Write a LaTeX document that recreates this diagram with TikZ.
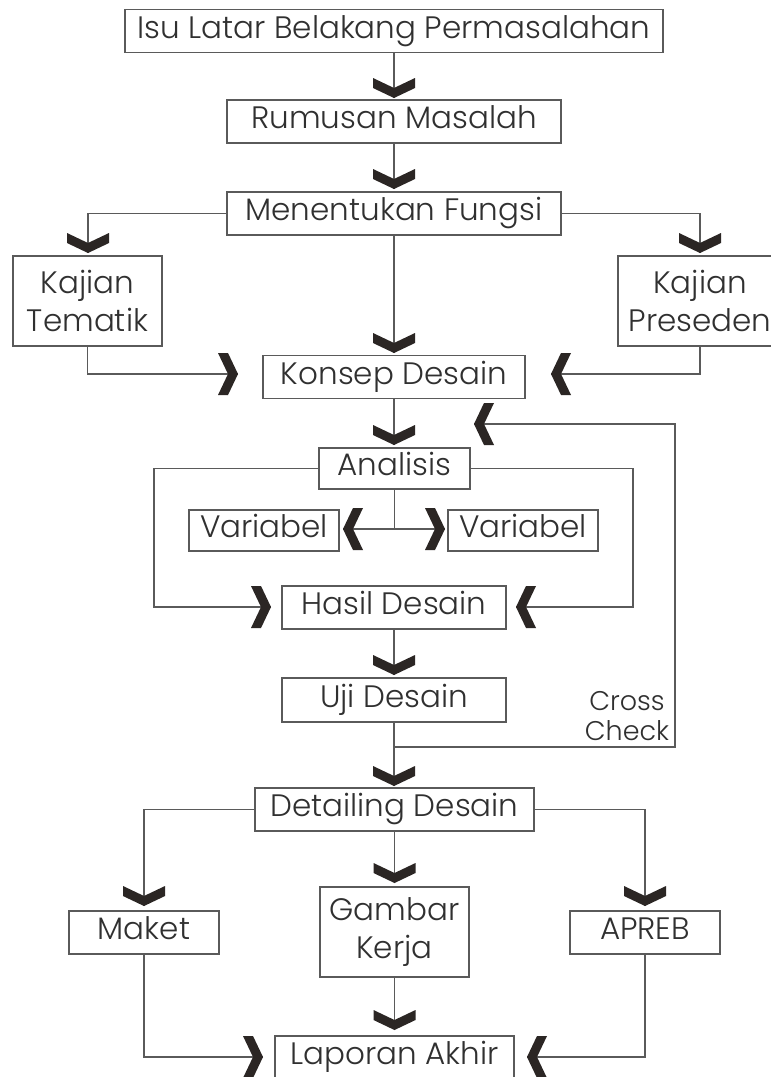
\documentclass[tikz,border=0pt]{standalone}
\usepackage{fontspec}
\setmainfont{Poppins}[UprightFont={* Light}]
\definecolor{linegray}{HTML}{5A5A5A}
\definecolor{textgray}{HTML}{303030}
\definecolor{chevcol}{HTML}{2B2624}
\newcommand{\mainf}{\fontsize{31}{37.5}\selectfont}
\newcommand{\smallf}{\fontsize{27}{30}\selectfont}
\tikzset{
  box/.style={draw=linegray, line width=1.2pt, fill=white, inner sep=0pt,
    text=textgray, font=\mainf, minimum height=43pt, text height=20pt, text depth=6pt},
  tallbox/.style={draw=linegray, line width=1.2pt, fill=white, inner sep=0pt,
    text=textgray, font=\mainf, minimum height=90pt, align=center},
  conn/.style={draw=linegray, line width=1.2pt},
  chevD/.pic={\fill[chevcol] (0,0)--(21,-10)--(21,-20)--(0,-10)--(-21,-20)--(-21,-10)--cycle;},
  chevR/.pic={\fill[chevcol] (0,0)--(-10,-21)--(-20,-21)--(-10,0)--(-20,21)--(-10,21)--cycle;},
  chevL/.pic={\fill[chevcol] (0,0)--(10,-21)--(20,-21)--(10,0)--(20,21)--(10,21)--cycle;},
}
\begin{document}
\begin{tikzpicture}[x=1pt,y=-1pt]
\useasboundingbox (0,0) rectangle (771,1077);
\fill[white] (0,0) rectangle (771,1077);
% nodes
\node[box, minimum width=538pt] (isu) at (394,31) {Isu Latar Belakang Permasalahan};
\node[box, minimum width=334pt] (rum) at (394,121.5) {Rumusan Masalah};
\node[box, minimum width=334pt] (fun) at (394,213.5) {Menentukan Fungsi};
\node[tallbox, minimum width=149pt] (tem) at (87.5,301) {Kajian\\Tematik};
\node[tallbox, minimum width=164pt] (pre) at (700,301) {Kajian\\Preseden};
\node[box, minimum width=262pt] (kon) at (394,377) {Konsep Desain};
\node[box, minimum width=151pt, minimum height=41pt] (ana) at (394.5,468.5) {Analisis};
\node[box, minimum width=150pt, minimum height=41pt] (varl) at (264,530.5) {Variabel};
\node[box, minimum width=150pt, minimum height=41pt] (varr) at (523,530.5) {Variabel};
\node[box, minimum width=224pt] (has) at (394,607.5) {Hasil Desain};
\node[box, minimum width=224pt, minimum height=44pt] (uji) at (394,700) {Uji Desain};
\node[font=\smallf, text=textgray, align=center, inner sep=0pt] (cc) at (627,716) {Cross\\Check};
\node[box, minimum width=279pt] (det) at (394.5,809.5) {Detailing Desain};
\node[box, minimum width=150pt] (mak) at (144,932.5) {Maket};
\node[tallbox, minimum width=149pt] (gam) at (394.5,932) {Gambar\\Kerja};
\node[box, minimum width=150pt] (apr) at (645,932.5) {APREB};
\node[box, minimum width=239pt] (lap) at (394.5,1057.5) {Laporan Akhir};
% coordinates for chevron tips
\coordinate (t1) at (394,98);
\coordinate (t2) at (394,189);
\coordinate (t3) at (88,253);
\coordinate (t4) at (700,253);
\coordinate (t5) at (394,353);
\coordinate (t6) at (238,374);
\coordinate (t7) at (551,374);
\coordinate (t8) at (394,445);
\coordinate (t9) at (474,424);
\coordinate (t10) at (343,529);
\coordinate (t11) at (445,529);
\coordinate (t12) at (271,607);
\coordinate (t13) at (516,607);
\coordinate (t14) at (394,675);
\coordinate (t15) at (394,786);
\coordinate (t16) at (144,906);
\coordinate (t17) at (645,906);
\coordinate (t18) at (394.5,883);
\coordinate (t19) at (394.5,1030);
\coordinate (t20) at (263,1057);
\coordinate (t21) at (527,1057);
\coordinate (br) at (394,747);
% connectors
\draw[conn] (isu.south) -- (t1);
\draw[conn] (rum.south) -- (t2);
\draw[conn] (fun.west) -| (t3);
\draw[conn] (fun.east) -| (t4);
\draw[conn] (fun.south) -- (t5);
\draw[conn] (tem.south) |- (t6);
\draw[conn] (pre.south) |- (t7);
\draw[conn] (kon.south) -- (t8);
\draw[conn] (ana.west) -- (154,468.5) |- (t12);
\draw[conn] (ana.east) -- (633,468.5) |- (t13);
\draw[conn] (ana.south) -- (394.5,529) -- (t10);
\draw[conn] (394.5,529) -- (t11);
\draw[conn] (has.south) -- (t14);
\draw[conn] (uji.south) -- (t15);
\draw[conn] (br) -- (675,747) |- (t9);
\draw[conn] (det.west) -| (t16);
\draw[conn] (det.east) -| (t17);
\draw[conn] (det.south) -- (t18);
\draw[conn] (gam.south) -- (t19);
\draw[conn] (mak.south) |- (t20);
\draw[conn] (apr.south) |- (t21);
% chevrons
\foreach \c in {t1,t2,t3,t4,t5,t8,t14,t15,t16,t17,t18,t19} {\pic at (\c) {chevD};}
\foreach \c in {t6,t11,t12,t20} {\pic at (\c) {chevR};}
\foreach \c in {t7,t9,t10,t13,t21} {\pic at (\c) {chevL};}
\end{tikzpicture}
\end{document}
